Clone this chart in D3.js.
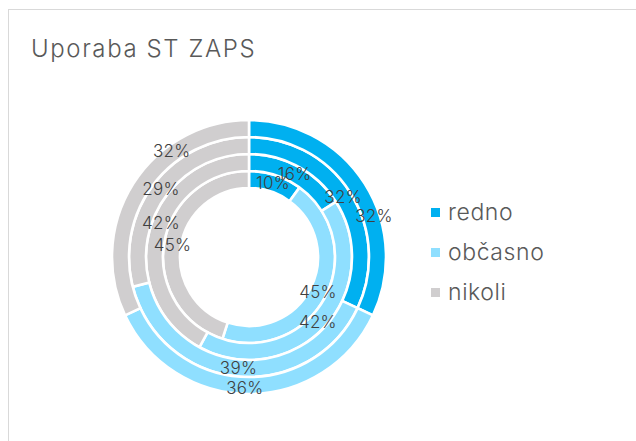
<!DOCTYPE html>
<html>
<head>
<meta charset="utf-8">
<script src="https://cdn.jsdelivr.net/npm/d3@7"></script>
<style>
  html, body { margin: 0; padding: 0; background: #fff; }
  svg { display: block; font-family: Inter, "Noto Sans", sans-serif; }
</style>
</head>
<body>
<div id="chart"></div>
<script>
const title = "Uporaba ST ZAPS";
const categories = ["redno", "občasno", "nikoli"];
// rings from the inside out, percent per category
const ring1 = [10, 45, 45];
const ring2 = [16, 42, 42];
const ring3 = [32, 39, 29];
const ring4 = [32, 36, 32];
const rings = [ring1, ring2, ring3, ring4];
const colors = ["#00b0f0", "#8fdfff", "#d0cecf"];

// label slide along the ring (percent of a turn) so labels don't collide
const labelShift = [
  [0, 0, 0],
  [0, 0, 1.9],
  [0, 0, 0],
  [4, 0.5, 6],
];

const W = 636, H = 441;
const cx = 249, cy = 257;
const innerR = 69, outerR = 137;

const svg = d3.select("#chart").append("svg")
  .attr("width", W).attr("height", H);

// chart frame
svg.append("rect")
  .attr("x", 8.5).attr("y", 9.5)
  .attr("width", W).attr("height", H)
  .attr("fill", "#fff")
  .attr("stroke", "#d9d9d9");

svg.append("text")
  .attr("x", 31).attr("y", 57)
  .attr("font-size", 24)
  .attr("font-weight", 300)
  .attr("letter-spacing", 1.6)
  .attr("fill", "#595959")
  .text(title);

const color = d3.scaleOrdinal().domain(categories).range(colors);
const ringScale = d3.scaleBand()
  .domain(d3.range(rings.length))
  .range([innerR, outerR]);

const pie = d3.pie().sort(null).value((d) => d.value);
const turn = d3.scaleLinear().domain([0, 100]).range([0, 2 * Math.PI]);

const g = svg.append("g").attr("transform", `translate(${cx},${cy})`);
const arcLayer = g.append("g");
const labelLayer = g.append("g");

rings.forEach((vals, ri) => {
  const r0 = ringScale(ri);
  const r1 = r0 + ringScale.bandwidth();
  const arc = d3.arc().innerRadius(r0).outerRadius(r1);
  const arcs = pie(vals.map((v, i) => ({ key: categories[i], value: v, i })));

  arcLayer.append("g").selectAll("path")
    .data(arcs)
    .join("path")
    .attr("d", arc)
    .attr("fill", (d) => color(d.data.key))
    .attr("stroke", "#fff")
    .attr("stroke-width", 2.6);

  const rm = (r0 + r1) / 2 + (ri === rings.length - 1 ? 3 : 0);
  const angle = (d) => (d.startAngle + d.endAngle) / 2 + turn(labelShift[ri][d.data.i]);

  labelLayer.append("g").selectAll("text")
    .data(arcs)
    .join("text")
    .attr("x", (d) => rm * Math.sin(angle(d)))
    .attr("y", (d) => -rm * Math.cos(angle(d)))
    .attr("text-anchor", "middle")
    .attr("dominant-baseline", "central")
    .attr("font-size", 17)
    .attr("font-weight", 300)
    .attr("letter-spacing", 0.3)
    .attr("fill", "#404040")
    .text((d) => d.data.value + "%");
});

// legend
const legend = svg.append("g").attr("transform", "translate(431,208)");
const item = legend.selectAll("g")
  .data(categories)
  .join("g")
  .attr("transform", (d, i) => `translate(0,${i * 40})`);
item.append("rect")
  .attr("width", 9).attr("height", 9)
  .attr("fill", (d) => color(d));
item.append("text")
  .attr("x", 17).attr("y", 12)
  .attr("font-size", 23)
  .attr("font-weight", 300)
  .attr("letter-spacing", 0.6)
  .attr("fill", "#595959")
  .text((d) => d);
</script>
</body>
</html>
